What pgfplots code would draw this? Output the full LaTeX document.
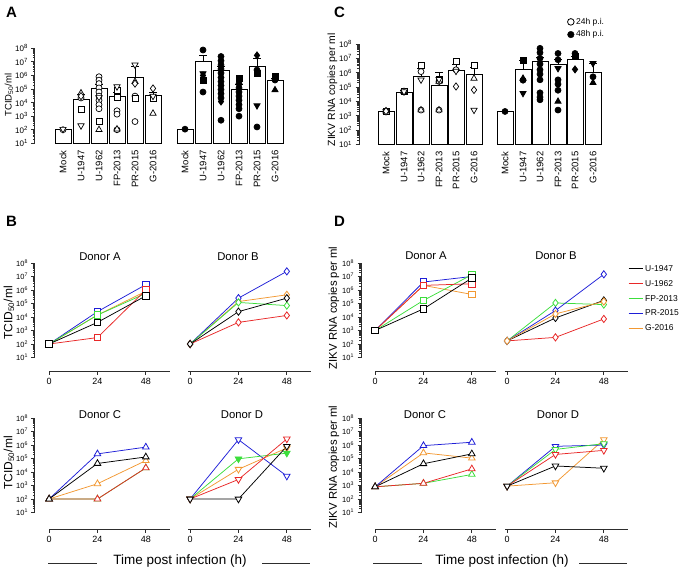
\documentclass[border=0pt]{standalone}
\usepackage{fontspec}
\setmainfont{Liberation Sans}
\usepackage{pgfplots}
\pgfplotsset{compat=1.18}

\definecolor{cU}{RGB}{0,0,0}
\definecolor{cR}{RGB}{232,40,40}
\definecolor{cF}{RGB}{60,222,60}
\definecolor{cP}{RGB}{30,30,215}
\definecolor{cO}{RGB}{242,152,50}
\definecolor{axgray}{RGB}{45,45,45}

\pgfplotsset{
  myebst/.style={black, line width=0.8pt},
  myopen/.style={only marks, black, mark size=3pt, every mark/.append style={line width=0.7pt, fill=white}},
  myfull/.style={only marks, black, mark size=3pt, every mark/.append style={line width=0.7pt, fill=black}},
  mytri/.style={mark=triangle*, mark size=3.6pt},
  mydtri/.style={mark=triangle*, mark size=3.6pt, every mark/.append style={rotate=180}},
  mydia/.style={mark=diamond*, mark size=3.6pt},
  mysq/.style={mark=square*, mark size=3pt},
  myci/.style={mark=*, mark size=3pt},
  myser/.style={color=#1, line width=0.75pt, every mark/.append style={solid, fill=white, line width=0.8pt}},
  mymA/.style={mark=square*, mark size=3.3pt},
  mymB/.style={mark=diamond*, mark size=3.6pt},
  mymC/.style={mark=triangle*, mark size=3.8pt},
  mymD/.style={mark=triangle*, mark size=3.8pt, every mark/.append style={rotate=180}},
  mygfill/.style={every mark/.append style={fill=cF}},
  mylog/.style={
    ytick={1e1,1e2,1e3,1e4,1e5,1e6,1e7,1e8},
    yticklabels={10\textsuperscript{1},10\textsuperscript{2},10\textsuperscript{3},10\textsuperscript{4},10\textsuperscript{5},10\textsuperscript{6},10\textsuperscript{7},10\textsuperscript{8}},
    minor ytick={2e1,3e1,4e1,5e1,6e1,7e1,8e1,9e1,2e2,3e2,4e2,5e2,6e2,7e2,8e2,9e2,2e3,3e3,4e3,5e3,6e3,7e3,8e3,9e3,2e4,3e4,4e4,5e4,6e4,7e4,8e4,9e4,2e5,3e5,4e5,5e5,6e5,7e5,8e5,9e5,2e6,3e6,4e6,5e6,6e6,7e6,8e6,9e6,2e7,3e7,4e7,5e7,6e7,7e7,8e7,9e7}},
  mynoy/.style={y tick style={draw=none}, yticklabels={,,,,,,,}},
}

\newcommand\eb[5]{%
  \addplot[myebst] coordinates {(#1,#4) (#1,#5)};
  \addplot[myebst] coordinates {(#2,#5) (#3,#5)};
}
\newcommand\barbox{%
  \addplot[ybar, bar width=16pt, fill=white, draw=black, line width=0.9pt]}

\begin{document}
\begin{tikzpicture}
\useasboundingbox (0pt,0pt) rectangle (685pt,-573pt);

% ---------------- panel A ----------------
\begin{axis}[scale only axis, ymode=log, ymin=10, ymax=1e8, log origin y=infty,
  axis x line*=bottom, axis y line*=left,
  x axis line style={draw=none}, y axis line style={axgray, line width=1pt},
  major x tick style={draw=none}, mylog,
  tick align=outside, major tick length=3.5pt, minor tick length=2pt,
  tick style={axgray, line width=0.8pt},
  x tick label style={rotate=90, anchor=east, font=\fontsize{9.5}{10}\selectfont},
  y tick label style={font=\fontsize{8}{9}\selectfont},
  clip=false,
  anchor=north west, at={(35pt,-48.3pt)}, width=255pt, height=95pt,
  xmin=35, xmax=290,
  xtick={63,81,99,117,135,153,185,203,221,239,257,275},
  xticklabels={Mock,U-1947,U-1962,FP-2013,PR-2015,G-2016,Mock,U-1947,U-1962,FP-2013,PR-2015,G-2016}]
  \barbox coordinates {(63,1e2) (81,1.8e4) (99,1.1e5) (117,2.7e4) (135,6.8e5) (153,3.2e4)
    (185,1e2) (203,1e7) (221,2.2e6) (239,1e5) (257,4.4e6) (275,4e5)};
  \eb{81}{77}{85}{1.8e4}{4e4}
  \eb{99}{95}{103}{1.1e5}{2.2e5}
  \eb{117}{113}{121}{2.7e4}{6e4}
  \eb{135}{131}{139}{6.8e5}{4.5e6}
  \eb{153}{149}{157}{3.2e4}{6e4}
  \eb{203}{199}{207}{1e7}{3e7}
  \eb{221}{217}{225}{2.2e6}{4.5e6}
  \eb{239}{235}{243}{1e5}{2.3e5}
  \eb{257}{253}{261}{4.4e6}{1.8e7}
  \eb{275}{271}{279}{4e5}{6e5}
  % 24h (open)
  \addplot[myopen,myci] coordinates {(63,1e2) (81,2.2e4) (99,8e5) (99,4.5e5) (99,2.5e5) (99,1.2e5) (99,6e4)
    (99,3e4) (99,1.5e4) (99,7e3) (99,3.5e3) (117,2.5e3) (117,1.4e3) (117,1e2) (135,4e2) (135,3e4)};
  \addplot[myopen,mysq] coordinates {(81,3e3) (99,4e2) (117,8e4) (117,2.5e4) (135,2.2e4) (153,2e4)};
  \addplot[myopen,mytri] coordinates {(81,5e4) (99,1e2) (117,1.1e2) (135,3.5e5) (153,1.6e3)};
  \addplot[myopen,mydtri] coordinates {(63,1.1e2) (81,2e2) (99,2.5e4) (117,1.5e5) (135,6e6) (153,3e4)};
  \addplot[myopen,mydia] coordinates {(81,3e4) (135,2.5e5) (153,1.1e5)};
  % 48h (filled)
  \addplot[myfull,myci] coordinates {(185,1.1e2) (203,7.5e7) (203,6e4) (221,2.5e7) (221,1.2e7) (221,6e6)
    (221,3e6) (221,1.5e6) (221,7e5) (221,3.5e5) (221,1.8e5) (221,9e4) (221,4.5e4) (221,2.2e4) (221,5e2)
    (239,2.5e5) (239,1.2e5) (239,6e4) (239,3e4) (239,1.5e4) (239,7e3) (239,3.5e3) (239,1e3)
    (257,2.5e6) (257,1.6e2) (275,4.6e5)};
  \addplot[myfull,mysq] coordinates {(203,4e5) (239,6e5) (257,1.5e6) (275,8e5)};
  \addplot[myfull,mytri] coordinates {(275,8.5e4)};
  \addplot[myfull,mydtri] coordinates {(203,1.4e6) (257,6e3)};
  \addplot[myfull,mydia] coordinates {(203,1e6) (221,1.2e4) (257,3e7)};
\end{axis}

% ---------------- panel C ----------------
\begin{axis}[scale only axis, ymode=log, ymin=10, ymax=1e8, log origin y=infty,
  axis x line*=bottom, axis y line*=left,
  x axis line style={draw=none}, y axis line style={axgray, line width=1pt},
  major x tick style={draw=none}, mylog,
  tick align=outside, major tick length=3.5pt, minor tick length=2pt,
  tick style={axgray, line width=0.8pt},
  x tick label style={rotate=90, anchor=east, font=\fontsize{9.5}{10}\selectfont},
  y tick label style={font=\fontsize{8}{9}\selectfont},
  clip=false,
  anchor=north west, at={(359pt,-44pt)}, width=251pt, height=100.5pt,
  xmin=359, xmax=610,
  xtick={386,404,421,439,456,474,505,523,540,558,575,593},
  xticklabels={Mock,U-1947,U-1962,FP-2013,PR-2015,G-2016,Mock,U-1947,U-1962,FP-2013,PR-2015,G-2016},
  legend style={at={(0.83,1.28)}, anchor=north west, draw=none, fill=none,
    font=\fontsize{8.5}{10}\selectfont, inner sep=0pt, row sep=1pt},
  legend cell align=left]
  \addlegendimage{only marks, mark=*, mark size=3.3pt, black, every mark/.append style={fill=white, line width=0.8pt}}
  \addlegendentry{24h p.i.}
  \addlegendimage{only marks, mark=*, mark size=3.3pt, black}
  \addlegendentry{48h p.i.}
  \barbox coordinates {(386,2.1e3) (404,4e4) (421,5.9e5) (439,1.4e5) (456,1.55e6) (474,7e5)
    (505,1.95e3) (523,1.8e6) (540,5.9e6) (558,3.8e6) (575,8.5e6) (593,1e6)};
  \eb{404}{400}{408}{4e4}{5.5e4}
  \eb{421}{417}{425}{5.9e5}{2e6}
  \eb{439}{435}{443}{1.4e5}{1e6}
  \eb{456}{452}{460}{1.55e6}{4e6}
  \eb{474}{470}{478}{7e5}{2.3e6}
  \eb{523}{519}{527}{1.8e6}{7e6}
  \eb{540}{536}{544}{5.9e6}{1.2e7}
  \eb{558}{554}{562}{3.8e6}{8e6}
  \eb{575}{571}{579}{8.5e6}{1.3e7}
  \eb{593}{589}{597}{1e6}{4.5e6}
  % 24h (open)
  \addplot[myopen,myci] coordinates {(386,2.1e3) (404,4.8e4) (421,1.2e6) (421,2.5e3) (439,2.5e5) (439,2.5e3) (456,1.6e6)};
  \addplot[myopen,mysq] coordinates {(386,2.1e3) (404,4.8e4) (421,3.5e6) (439,3.5e5) (456,6e6) (474,3.5e6)};
  \addplot[myopen,mytri] coordinates {(386,2.1e3) (404,4.8e4) (421,2.5e3) (439,2.5e5) (439,2.5e3) (474,4e5)};
  \addplot[myopen,mydtri] coordinates {(386,2.1e3) (404,4.8e4) (421,3.2e5) (439,3.5e5) (456,1.3e6) (474,2.5e3)};
  \addplot[myopen,mydia] coordinates {(386,2.1e3) (456,1.1e5) (474,6.3e4)};
  % 48h (filled)
  \addplot[myfull,myci] coordinates {(505,2e3) (523,3e5) (540,5e7) (540,2.5e7) (540,1e7) (540,4e6) (540,1.6e6)
    (540,8e5) (540,3.2e5) (540,4e4) (540,2e4) (540,1.3e4) (558,2.2e7) (558,8e6) (558,3.2e5) (558,1.6e5)
    (558,6e4) (558,2.5e3) (575,2.2e7) (593,5.2e5)};
  \addplot[myfull,mysq] coordinates {(523,7e6) (575,1.3e7)};
  \addplot[myfull,mytri] coordinates {(523,4e5) (558,1e4) (593,2e5)};
  \addplot[myfull,mydtri] coordinates {(523,3.7e4) (558,2e6) (593,4.5e6)};
  \addplot[myfull,mydia] coordinates {(575,1.7e6)};
\end{axis}

% ---------------- line panels (B and D) ----------------
\pgfplotsset{every axis/.append style={
    scale only axis, width=135pt, height=108pt,
    xmin=-7, xmax=60, ymode=log, ymin=1, ymax=1e8,
    axis x line*=bottom, axis y line*=left,
    x axis line style={draw=none}, y axis line style={draw=none},
    xtick={0,24,48}, mylog,
    tick align=outside, major tick length=3.5pt, minor tick length=2pt,
    tick style={axgray, line width=0.8pt},
    x tick label style={font=\fontsize{9}{10}\selectfont},
    y tick label style={font=\fontsize{7.5}{8}\selectfont},
    /pgf/number format/assume math mode=true,
    clip=false, anchor=north west}}

\begin{axis}[at={(35pt,-263pt)}]
  \addplot[myser=cO, mymA] coordinates {(0,1e2) (24,1.4e4) (48,8e5)};
  \addplot[myser=cP, mymA] coordinates {(0,1e2) (24,2.5e4) (48,2.5e6)};
  \addplot[myser=cF, mymA] coordinates {(0,1e2) (24,1.4e4) (48,5.6e5)};
  \addplot[myser=cR, mymA] coordinates {(0,1e2) (24,3e2) (48,1e6)};
  \addplot[myser=cU, mymA] coordinates {(0,1e2) (24,4e3) (48,3.7e5)};
  \draw[axgray, line width=1pt] (axis cs:-7,10) -- (axis cs:-7,1e8);
  \draw[axgray, line width=1pt] (axis cs:0,1) -- (axis cs:60,1);
\end{axis}
\begin{axis}[at={(176pt,-263pt)}, mynoy]
  \addplot[myser=cO, mymB] coordinates {(0,1e2) (24,1.4e5) (48,4.4e5)};
  \addplot[myser=cP, mymB] coordinates {(0,1e2) (24,2.5e5) (48,2.4e7)};
  \addplot[myser=cF, mymB] coordinates {(0,1e2) (24,1.2e5) (48,7e4)};
  \addplot[myser=cR, mymB] coordinates {(0,1e2) (24,4e3) (48,1.3e4)};
  \addplot[myser=cU, mymB] coordinates {(0,1e2) (24,2.5e4) (48,2.5e5)};
  \draw[axgray, line width=1pt] (axis cs:-1,1) -- (axis cs:60,1);
\end{axis}
\begin{axis}[at={(35pt,-418pt)}, ymin=0.6, height=111pt]
  \addplot[myser=cO, mymC] coordinates {(0,1e2) (24,1.35e3) (48,7e4)};
  \addplot[myser=cP, mymC] coordinates {(0,1e2) (24,2.2e5) (48,7e5)};
  \addplot[myser=cF, mymC, mygfill] coordinates {(0,1e2) (24,1e2) (48,2e4)};
  \addplot[myser=cR, mymC] coordinates {(0,1e2) (24,1e2) (48,2e4)};
  \addplot[myser=cU, mymC] coordinates {(0,1e2) (24,4.3e4) (48,1.3e5)};
  \draw[axgray, line width=1pt] (axis cs:-7,10) -- (axis cs:-7,1e8);
  \draw[axgray, line width=1pt] (axis cs:0,0.6) -- (axis cs:60,0.6);
\end{axis}
\begin{axis}[at={(176pt,-418pt)}, ymin=0.6, height=111pt, mynoy]
  \addplot[myser=cO, mymD] coordinates {(0,1e2) (24,1.6e4) (48,6e5)};
  \addplot[myser=cP, mymD] coordinates {(0,1e2) (24,2.5e6) (48,5e3)};
  \addplot[myser=cF, mymD, mygfill] coordinates {(0,1e2) (24,9.5e4) (48,2.5e5)};
  \addplot[myser=cR, mymD] coordinates {(0,1e2) (24,2.8e3) (48,2.8e6)};
  \addplot[myser=cU, mymD] coordinates {(0,1e2) (24,1e2) (48,8e5)};
  \draw[axgray, line width=1pt] (axis cs:-1,0.6) -- (axis cs:60,0.6);
\end{axis}

\begin{axis}[at={(361pt,-263pt)}]
  \addplot[myser=cO, mymA] coordinates {(0,1e3) (24,2.2e6) (48,4.7e5)};
  \addplot[myser=cP, mymA] coordinates {(0,1e3) (24,3.9e6) (48,1e7)};
  \addplot[myser=cF, mymA] coordinates {(0,1e3) (24,1.7e5) (48,1.35e7)};
  \addplot[myser=cR, mymA] coordinates {(0,1e3) (24,2.2e6) (48,2.9e6)};
  \addplot[myser=cU, mymA] coordinates {(0,1e3) (24,4e4) (48,7.6e6)};
  \draw[axgray, line width=1pt] (axis cs:-7,10) -- (axis cs:-7,1e8);
  \draw[axgray, line width=1pt] (axis cs:0,1) -- (axis cs:60,1);
\end{axis}
\begin{axis}[at={(493pt,-263pt)}, mynoy,
  legend style={at={(1.0,1.0)}, anchor=north west, draw=none, fill=none,
    font=\fontsize{8.5}{10}\selectfont, inner sep=0pt, row sep=3.5pt},
  legend cell align=left,
  legend image code/.code={\draw[#1, line width=1pt] (0pt,0pt) -- (14pt,0pt);}]
  \addplot[myser=cU, mymB] coordinates {(0,1.7e2) (24,8.5e3) (48,1.7e5)};
  \addlegendentry{U-1947}
  \addplot[myser=cR, mymB] coordinates {(0,1.7e2) (24,3.1e2) (48,7.2e3)};
  \addlegendentry{U-1962}
  \addplot[myser=cF, mymB] coordinates {(0,1.7e2) (24,1.1e5) (48,8.3e4)};
  \addlegendentry{FP-2013}
  \addplot[myser=cP, mymB] coordinates {(0,1.7e2) (24,3e4) (48,1.45e7)};
  \addlegendentry{PR-2015}
  \addplot[myser=cO, mymB] coordinates {(0,1.7e2) (24,1.7e4) (48,1.4e5)};
  \addlegendentry{G-2016}
  \draw[axgray, line width=1pt] (axis cs:-1,1) -- (axis cs:60,1);
\end{axis}
\begin{axis}[at={(361pt,-418pt)}, ymin=0.6, height=111pt]
  \addplot[myser=cO, mymC] coordinates {(0,8e2) (24,2.6e5) (48,1.07e5)};
  \addplot[myser=cP, mymC] coordinates {(0,8e2) (24,9e5) (48,1.6e6)};
  \addplot[myser=cF, mymC] coordinates {(0,8e2) (24,1.45e3) (48,6.6e3)};
  \addplot[myser=cR, mymC] coordinates {(0,8e2) (24,1.45e3) (48,1.7e4)};
  \addplot[myser=cU, mymC] coordinates {(0,8e2) (24,4.1e4) (48,2.2e5)};
  \draw[axgray, line width=1pt] (axis cs:-7,10) -- (axis cs:-7,1e8);
  \draw[axgray, line width=1pt] (axis cs:0,0.6) -- (axis cs:60,0.6);
\end{axis}
\begin{axis}[at={(493pt,-418pt)}, ymin=0.6, height=111pt, mynoy]
  \addplot[myser=cO, mymD] coordinates {(0,9e2) (24,1.6e3) (48,2.5e6)};
  \addplot[myser=cP, mymD] coordinates {(0,9e2) (24,8e5) (48,1e6)};
  \addplot[myser=cF, mymD] coordinates {(0,9e2) (24,4.7e5) (48,1.26e6)};
  \addplot[myser=cR, mymD] coordinates {(0,9e2) (24,2e5) (48,4e5)};
  \addplot[myser=cU, mymD] coordinates {(0,9e2) (24,2.8e4) (48,1.9e4)};
  \draw[axgray, line width=1pt] (axis cs:-1,0.6) -- (axis cs:60,0.6);
\end{axis}

% ---------------- labels ----------------
\begin{scope}[font=\bfseries\fontsize{15}{15}\selectfont]
  \node at (11.5pt,-12.5pt) {A};
  \node at (339.5pt,-12.5pt) {C};
  \node at (11.5pt,-221pt) {B};
  \node at (339.5pt,-221pt) {D};
\end{scope}
\node[rotate=90, font=\fontsize{9.5}{10}\selectfont] at (9pt,-95pt) {TCID\textsubscript{50}/ml};
\node[rotate=90, font=\fontsize{10.4}{11}\selectfont] at (332.5pt,-90pt) {ZIKV RNA copies per ml};
\node[rotate=90, font=\fontsize{12}{13}\selectfont] at (9pt,-313pt) {TCID\textsubscript{50}/ml};
\node[rotate=90, font=\fontsize{12}{13}\selectfont] at (9pt,-463pt) {TCID\textsubscript{50}/ml};
\node[rotate=90, font=\fontsize{11.3}{12}\selectfont] at (334pt,-308pt) {ZIKV RNA copies per ml};
\node[rotate=90, font=\fontsize{11.3}{12}\selectfont] at (334pt,-467pt) {ZIKV RNA copies per ml};
\begin{scope}[font=\fontsize{11.3}{12}\selectfont]
  \node at (100pt,-256.5pt) {Donor A};
  \node at (238pt,-256.5pt) {Donor B};
  \node at (100pt,-415pt) {Donor C};
  \node at (242pt,-415pt) {Donor D};
  \node at (426pt,-255.5pt) {Donor A};
  \node at (556pt,-255.5pt) {Donor B};
  \node at (425pt,-415pt) {Donor C};
  \node at (558pt,-415pt) {Donor D};
\end{scope}
\node[font=\fontsize{13.5}{14}\selectfont] at (180pt,-561pt) {Time post infection (h)};
\node[font=\fontsize{13.5}{14}\selectfont] at (502pt,-561pt) {Time post infection (h)};
\draw[axgray, line width=0.9pt] (48pt,-563pt) -- (97pt,-563pt);
\draw[axgray, line width=0.9pt] (262pt,-563pt) -- (310pt,-563pt);
\draw[axgray, line width=0.9pt] (373pt,-563pt) -- (422pt,-563pt);
\draw[axgray, line width=0.9pt] (579pt,-563pt) -- (627pt,-563pt);
\end{tikzpicture}
\end{document}
